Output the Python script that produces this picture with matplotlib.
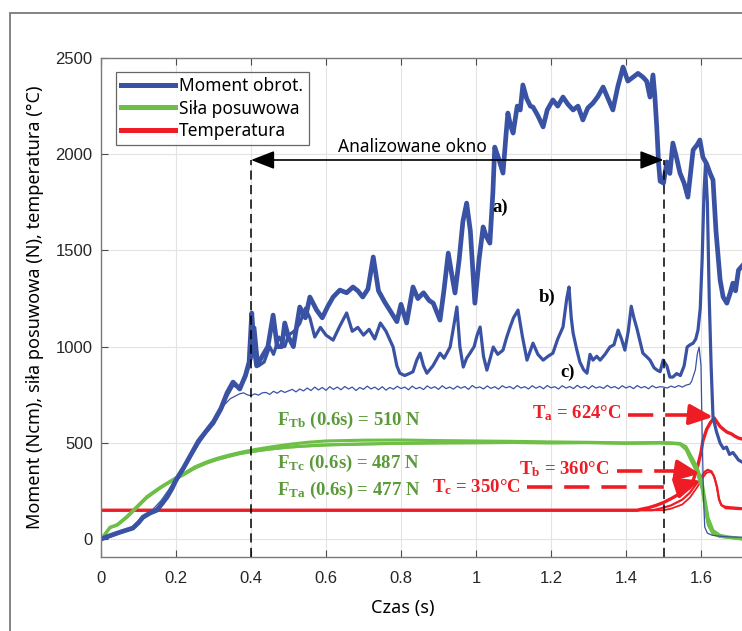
import matplotlib
matplotlib.use("Agg")
import matplotlib.pyplot as plt
from matplotlib.patches import Rectangle
from matplotlib.lines import Line2D

plt.rcParams["mathtext.fontset"] = "custom"
plt.rcParams["mathtext.rm"] = "Liberation Serif:bold"
plt.rcParams["mathtext.bf"] = "Liberation Serif:bold"
plt.rcParams["mathtext.it"] = "Liberation Serif:bold"

# ---------------- data ----------------
# Moment obrotowy, curve a) (thick)
ta = [0, 0.02, 0.043, 0.065, 0.085, 0.1, 0.112, 0.13, 0.149, 0.165, 0.176, 0.19, 0.2, 0.22, 0.24,
      0.26, 0.28, 0.3, 0.32, 0.336, 0.352, 0.37, 0.385, 0.395, 0.402, 0.408, 0.415, 0.43, 0.445,
      0.459, 0.47, 0.482, 0.49, 0.5, 0.513, 0.53, 0.545, 0.557, 0.575, 0.59, 0.605, 0.619, 0.637,
      0.655, 0.672, 0.685, 0.698, 0.712, 0.726, 0.74, 0.757, 0.77, 0.789, 0.8, 0.815, 0.832, 0.845,
      0.86, 0.875, 0.886, 0.904, 0.915, 0.926, 0.935, 0.944, 0.955, 0.965, 0.975, 0.985, 0.997,
      1.008, 1.019, 1.028, 1.037, 1.045, 1.05, 1.06, 1.072, 1.08, 1.085, 1.092, 1.099, 1.11, 1.118,
      1.125, 1.135, 1.145, 1.152, 1.165, 1.179, 1.19, 1.205, 1.218, 1.232, 1.245, 1.259, 1.272,
      1.285, 1.298, 1.312, 1.325, 1.339, 1.352, 1.365, 1.378, 1.392, 1.405, 1.419, 1.432, 1.445,
      1.455, 1.464, 1.472, 1.477, 1.482, 1.487, 1.491, 1.5, 1.509, 1.517, 1.525, 1.535, 1.544,
      1.555, 1.565, 1.572, 1.579, 1.59, 1.597, 1.605, 1.615, 1.624, 1.632, 1.64, 1.651, 1.659,
      1.669, 1.678, 1.685, 1.692, 1.7, 1.71]
ma = [0, 15, 31, 45, 57, 85, 114, 135, 150, 190, 218, 265, 307, 370, 440,
      510, 560, 610, 680, 759, 816, 780, 850, 920, 1175, 1000, 900, 950, 1000,
      1164, 1000, 1000, 1123, 1050, 1000, 1206, 1150, 1258, 1190, 1150, 1210, 1258, 1294,
      1280, 1310, 1290, 1258, 1300, 1466, 1290, 1230, 1190, 1130, 1220, 1123, 1310, 1250,
      1280, 1240, 1226, 1138, 1300, 1486, 1380, 1279, 1450, 1650, 1746, 1600, 1226,
      1450, 1622, 1570, 1538, 1800, 2037, 1980, 1902, 2100, 2214, 2150, 2110, 2250, 2230,
      2360, 2290, 2250, 2245, 2200, 2142, 2230, 2282, 2250, 2297, 2260, 2230, 2250,
      2178, 2240, 2266, 2300, 2349, 2290, 2230, 2350, 2453, 2380, 2401, 2420, 2401,
      2380, 2297, 2412, 2300, 2142, 1950, 1860, 1850, 1960, 1900, 2058, 1980, 1902,
      1850, 1777, 1900, 2022, 2050, 2074, 1985, 1950, 1902, 1866, 1600, 1346, 1258,
      1226, 1280, 1330, 1290, 1398, 1420]

# Moment obrotowy, curve b) (medium)
tb = [0, 0.02, 0.043, 0.065, 0.085, 0.1, 0.112, 0.13, 0.149, 0.165, 0.176, 0.19, 0.2, 0.22, 0.24,
      0.26, 0.28, 0.3, 0.32, 0.336, 0.352, 0.37, 0.385, 0.395, 0.402, 0.41, 0.42, 0.435, 0.45,
      0.46, 0.475, 0.49, 0.5, 0.515, 0.53, 0.545, 0.557, 0.57, 0.585, 0.6, 0.619, 0.635, 0.655,
      0.67, 0.685, 0.7, 0.715, 0.73, 0.745, 0.76, 0.779, 0.789, 0.797, 0.81, 0.824, 0.832, 0.842,
      0.851, 0.86, 0.869, 0.885, 0.904, 0.915, 0.931, 0.94, 0.949, 0.957, 0.966, 0.975, 0.984,
      0.995, 1.003, 1.011, 1.02, 1.029, 1.038, 1.046, 1.058, 1.072, 1.082, 1.091, 1.1, 1.112,
      1.124, 1.136, 1.145, 1.152, 1.165, 1.179, 1.192, 1.205, 1.218, 1.232, 1.242, 1.248, 1.254,
      1.259, 1.268, 1.277, 1.287, 1.296, 1.304, 1.312, 1.322, 1.331, 1.344, 1.357, 1.368, 1.379,
      1.388, 1.397, 1.406, 1.414, 1.421, 1.429, 1.437, 1.445, 1.456, 1.464, 1.475, 1.483, 1.491,
      1.499, 1.509, 1.517, 1.525, 1.535, 1.545, 1.555, 1.563, 1.571, 1.579, 1.586, 1.592, 1.598,
      1.603, 1.608, 1.612, 1.617, 1.622, 1.627, 1.632, 1.641, 1.651, 1.66, 1.668, 1.676, 1.685,
      1.693, 1.7, 1.71]
mb = [0, 12, 28, 44, 60, 88, 110, 132, 155, 185, 222, 270, 300, 365, 435,
      500, 555, 600, 670, 745, 800, 790, 840, 905, 950, 1100, 900, 920, 1000,
      960, 1050, 1000, 1060, 1080, 1120, 1200, 1150, 1050, 1100, 1060, 1034, 1100, 1175,
      1080, 1100, 1060, 1090, 1040, 1123, 1080, 998, 900, 862, 850, 862, 870, 930,
      966, 900, 862, 900, 966, 940, 998, 1100, 1206, 1000, 894, 940, 966,
      1000, 1060, 1102, 950, 878, 940, 998, 960, 982, 1050, 1102, 1150, 1190,
      1050, 930, 980, 1018, 960, 930, 950, 966, 1040, 1102, 1250, 1310, 1150,
      1070, 990, 920, 880, 862, 960, 930, 950, 930, 960, 998, 1010, 1086,
      1040, 982, 1080, 1210, 1150, 1095, 1030, 966, 946, 930, 890, 878, 870,
      930, 900, 842, 842, 860, 850, 900, 998, 1010, 1018, 1040, 1086, 1200,
      1450, 1800, 1950, 1750, 1250, 900, 634, 560, 499, 470, 478, 440, 450,
      430, 411, 400]

# Moment obrotowy, curve c) (thin)
tc = [0, 0.02, 0.043, 0.065, 0.085, 0.1, 0.12, 0.14, 0.16, 0.18, 0.2, 0.225, 0.25, 0.275, 0.3,
      0.315, 0.33, 0.345, 0.36, 0.37, 0.38, 0.39, 0.4, 0.41, 0.42, 0.43, 0.44, 0.45, 0.46, 0.47,
      0.48, 0.49, 0.5, 0.51, 0.52, 0.53, 0.54, 0.55, 0.56, 0.57, 0.58, 0.59, 0.6, 0.61, 0.62, 0.63,
      0.64, 0.65, 0.66, 0.67, 0.68, 0.69, 0.7, 0.71, 0.72, 0.73, 0.74, 0.75, 0.76, 0.77, 0.78, 0.79,
      0.8, 0.81, 0.82, 0.83, 0.84, 0.85, 0.86, 0.87, 0.88, 0.89, 0.9, 0.91, 0.92, 0.93, 0.94, 0.95,
      0.96, 0.97, 0.98, 0.99, 1.0, 1.01, 1.02, 1.03, 1.04, 1.05, 1.06, 1.07, 1.08, 1.09, 1.1, 1.11,
      1.12, 1.13, 1.14, 1.15, 1.16, 1.17, 1.18, 1.19, 1.2, 1.21, 1.22, 1.23, 1.24, 1.25, 1.26, 1.27,
      1.28, 1.29, 1.3, 1.31, 1.32, 1.33, 1.34, 1.35, 1.36, 1.37, 1.38, 1.39, 1.4, 1.41, 1.42, 1.43,
      1.44, 1.45, 1.46, 1.47, 1.48, 1.49, 1.5, 1.51, 1.52, 1.53, 1.54, 1.55, 1.56, 1.57, 1.575,
      1.585, 1.59, 1.595, 1.6, 1.603, 1.607, 1.61, 1.617, 1.63, 1.65, 1.67, 1.7, 1.71]
mc = [0, 14, 30, 45, 60, 86, 120, 158, 200, 255, 320, 395, 460, 545, 620,
      660, 700, 730, 745, 755, 760, 750, 745, 755, 748, 760, 762, 752, 768, 758,
      772, 762, 770, 778, 765, 780, 770, 785, 772, 790, 775, 788, 773, 792, 778, 790,
      776, 793, 780, 790, 772, 788, 778, 795, 780, 790, 776, 792, 774, 788, 779, 794,
      782, 790, 776, 795, 781, 789, 777, 796, 783, 792, 778, 797, 782, 790, 779, 795,
      784, 793, 778, 798, 785, 791, 780, 796, 783, 792, 779, 797, 786, 793, 781, 798,
      785, 792, 780, 797, 784, 794, 781, 798, 786, 792, 780, 797, 785, 793, 782, 799,
      786, 794, 781, 797, 785, 792, 783, 799, 786, 793, 781, 797, 785, 794, 782, 798,
      786, 793, 781, 797, 786, 792, 790, 785, 795, 788, 798, 790, 800, 805, 820,
      880, 960, 998, 900, 551, 200, 62, 31, 20, 15, 12, 10, 10]

# Siła posuwowa (three runs)
tf = [0, 0.005, 0.024, 0.043, 0.069, 0.096, 0.123, 0.157, 0.192, 0.22, 0.25, 0.28, 0.31, 0.34,
      0.37, 0.4, 0.45, 0.5, 0.55, 0.6, 0.7, 0.8, 0.9, 1.0, 1.1, 1.2, 1.3, 1.4, 1.491, 1.52,
      1.544, 1.56, 1.571, 1.589, 1.603, 1.611, 1.619, 1.632, 1.65, 1.67, 1.7, 1.71]
fa = [0, 10, 62, 73, 114, 166, 218, 265, 307, 335, 370, 395, 415, 430,
      445, 455, 468, 478, 485, 490, 495, 498, 500, 500, 502, 500, 501, 498, 500, 498,
      495, 470, 426, 359, 270, 166, 83, 31, 15, 10, 3, 0]
fb = [0, 12, 60, 75, 118, 170, 222, 268, 310, 340, 375, 400, 420, 436,
      450, 462, 478, 492, 503, 510, 514, 515, 512, 510, 508, 505, 503, 500, 502, 500,
      497, 480, 440, 375, 295, 200, 110, 45, 20, 12, 5, 2]
fc = [0, 8, 58, 70, 110, 162, 214, 262, 305, 332, 366, 392, 412, 428,
      442, 452, 466, 476, 482, 487, 492, 496, 498, 500, 500, 499, 500, 497, 498, 496,
      492, 462, 415, 345, 255, 150, 70, 25, 12, 8, 2, 0]

# Temperatura (three runs)
tTa = [0, 1.43, 1.44, 1.46, 1.48, 1.5, 1.52, 1.54, 1.55, 1.56, 1.57, 1.58, 1.59, 1.6, 1.605,
       1.615, 1.625, 1.635, 1.642, 1.651, 1.66, 1.67, 1.68, 1.69, 1.7, 1.71]
Ta = [150, 150, 155, 163, 175, 190, 210, 232, 245, 255, 268, 310, 370, 450, 510,
      570, 605, 630, 610, 585, 570, 555, 548, 535, 525, 520]
tTb = [0, 1.47, 1.49, 1.52, 1.55, 1.57, 1.585, 1.6, 1.61, 1.618, 1.628, 1.636, 1.643, 1.648,
       1.655, 1.665, 1.68, 1.7, 1.71]
Tb = [150, 150, 158, 175, 205, 240, 280, 320, 350, 360, 352, 320, 270, 205,
      175, 168, 165, 162, 160]
tTc = [0, 1.5, 1.52, 1.55, 1.57, 1.59, 1.605, 1.615, 1.625, 1.633, 1.64, 1.647, 1.653, 1.665,
       1.7, 1.71]
Tc = [150, 150, 158, 180, 215, 270, 320, 345, 350, 335, 290, 220, 180, 160, 155, 155]

xtick_vals = [0, 0.2, 0.4, 0.6, 0.8, 1.0, 1.2, 1.4, 1.6]
xtick_labels = ["0", "0.2", "0.4", "0.6", "0.8", "1", "1.2", "1.4", "1.6"]
ytick_vals = [0, 500, 1000, 1500, 2000, 2500]

window = [0.4, 1.5]
window_y = 1970

# ---------------- figure ----------------
BLUE = "#3a52a3"
GREEN = "#6dbf46"
RED = "#ee1c25"
TXTGREEN = "#5b9a3a"

fig = plt.figure(figsize=(7.42, 6.31), dpi=100)
fig.patches.append(Rectangle((10 / 742, -0.1), 1.2, 1 - 13 / 631 + 0.1, transform=fig.transFigure,
                             fill=False, edgecolor="#7a7a7a", linewidth=1.3))

ax_w = 1.8 * 375 / 742
ax = fig.add_axes([101 / 742, 1 - 557 / 631, ax_w, (557 - 58) / 631])
ax.set_xlim(0, 1.8)
ax.set_ylim(-93, 2500)

ax.grid(True, color="#e3e3e3", linewidth=0.8)
ax.set_axisbelow(True)

# red
ax.plot(tTc, Tc, color=RED, lw=1.3)
ax.plot(tTb, Tb, color=RED, lw=1.6)
ax.plot(tTa, Ta, color=RED, lw=2.4)
# green
ax.plot(tf, fc, color=GREEN, lw=1.6)
ax.plot(tf, fa, color=GREEN, lw=2.2)
ax.plot(tf, fb, color=GREEN, lw=2.2)
# blue
ax.plot(tc, mc, color=BLUE, lw=0.9)
ax.plot(tb, mb, color=BLUE, lw=2.3)
ax.plot(ta, ma, color=BLUE, lw=3.4)

# window
for xv in window:
    ax.plot([xv, xv], [-93, window_y], color="black", lw=1.1, ls=(0, (6, 3.5)))
ax.annotate("", xy=(window[0], window_y), xytext=(window[1], window_y),
            arrowprops=dict(arrowstyle="<|-|>,head_length=0.9,head_width=0.35", color="black",
                            lw=1.2, shrinkA=0, shrinkB=0, mutation_scale=16))
ax.text(0.83, window_y + 22, "Analizowane okno", ha="center", va="bottom",
        fontsize=12.5, family="Noto Sans", color="black")

serif = dict(family="Liberation Serif", weight="bold")
ax.text(1.064, 1725, "a)", ha="center", va="center", fontsize=13.5, **serif)
ax.text(1.189, 1258, "b)", ha="center", va="center", fontsize=13.5, **serif)
ax.text(1.243, 868, "c)", ha="center", va="center", fontsize=13.5, **serif)

ax.text(0.47, 618, r"$\mathbf{F}_{\mathbf{Tb}}$ (0.6s) = 510 N", ha="left", va="center",
        fontsize=13.5, color=TXTGREEN, **serif)
ax.text(0.47, 395, r"$\mathbf{F}_{\mathbf{Tc}}$ (0.6s) = 487 N", ha="left", va="center",
        fontsize=13.5, color=TXTGREEN, **serif)
ax.text(0.47, 255, r"$\mathbf{F}_{\mathbf{Ta}}$ (0.6s) = 477 N", ha="left", va="center",
        fontsize=13.5, color=TXTGREEN, **serif)

ax.text(1.15, 655, r"$\mathbf{T}_{\mathbf{a}}$ = 624°C", ha="left", va="center",
        fontsize=13.5, color=RED, **serif)
ax.text(1.115, 364, r"$\mathbf{T}_{\mathbf{b}}$ = 360°C", ha="left", va="center",
        fontsize=13.5, color=RED, **serif)
ax.text(0.883, 272, r"$\mathbf{T}_{\mathbf{c}}$ = 350°C", ha="left", va="center",
        fontsize=13.5, color=RED, **serif)

# dashed red arrows: (dash start, dash end, y, tip x, tip y)
red_arrows = [(1.405, 1.585, 644, 1.632, 635),
              (1.376, 1.545, 355, 1.597, 340),
              (1.136, 1.545, 272, 1.597, 305)]
for x0, x1, yv, xt, yt in red_arrows:
    ax.plot([x0, x1], [yv, yv], color=RED, lw=2.6, dashes=(7, 3.3), solid_capstyle="butt")
    ax.annotate("", xy=(xt, yt), xytext=(x1, yv),
                arrowprops=dict(arrowstyle="-|>,head_length=0.8,head_width=0.35", color=RED,
                                lw=2.6, shrinkA=0, shrinkB=0, mutation_scale=18))

# axes styling
ax.set_xticks(xtick_vals)
ax.set_xticklabels(xtick_labels)
ax.set_yticks(ytick_vals)
ax.tick_params(direction="in", length=5, width=0.8, colors="#4d4d4d", labelcolor="#262626",
               labelsize=12, top=True, right=True)
ax.tick_params(axis="x", pad=10)
ax.tick_params(axis="y", pad=6)
for lab in ax.get_xticklabels() + ax.get_yticklabels():
    lab.set_family("Liberation Sans")
for sp in ax.spines.values():
    sp.set_color("#7a7a7a")
    sp.set_linewidth(1.0)

ax.set_xlabel("Czas (s)", fontsize=13, family="Noto Sans", color="black")
ax.xaxis.set_label_coords((403 - 101) / (ax_w * 742), -0.085)
ax.set_ylabel("Moment (Ncm), siła posuwowa (N), temperatura (°C)", fontsize=13,
              family="Noto Sans", color="black")
ax.yaxis.set_label_coords((35 - 101) / (ax_w * 742), 0.5)
ax.yaxis.label.set_va("center")

handles = [Line2D([], [], color=BLUE, lw=3.6),
           Line2D([], [], color=GREEN, lw=3.6),
           Line2D([], [], color=RED, lw=3.6)]
leg = ax.legend(handles, ["Moment obrot.", "Siła posuwowa", "Temperatura"],
                loc="upper left", bbox_to_anchor=((116 - 101) / (ax_w * 742), 1 - 14 / 499),
                borderaxespad=0, frameon=True, fancybox=False, handlelength=3.1,
                handletextpad=0.25, borderpad=0.3, labelspacing=0.25,
                prop=dict(family="Noto Sans", size=12.5))
leg.get_frame().set_edgecolor("#404040")
leg.get_frame().set_linewidth(0.9)

fig.savefig("out.png", dpi=100)
